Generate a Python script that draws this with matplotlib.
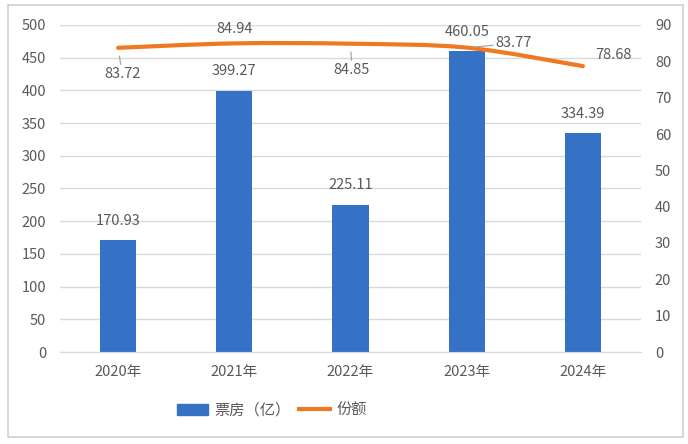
import matplotlib.pyplot as plt
from matplotlib.path import Path
from matplotlib.patches import PathPatch, Rectangle
from matplotlib.lines import Line2D

plt.rcParams['font.family'] = ['Noto Sans CJK SC', 'DejaVu Sans']

years = ['2020年', '2021年', '2022年', '2023年', '2024年']
box_office = [170.93, 399.27, 225.11, 460.05, 334.39]
share = [83.72, 84.94, 84.85, 83.77, 78.68]

blue = '#3572C6'
orange = '#F07820'
txt = '#595959'
grid = '#D9D9D9'

fig = plt.figure(figsize=(6.88, 4.44), dpi=100)
# outer frame like the original chart box
fig.patches.append(Rectangle((0.011, 0.016), 0.982, 0.972, transform=fig.transFigure,
                             fill=False, edgecolor='#D0D0D0', lw=1.2))

ax = fig.add_axes([60 / 688, 1 - 352 / 444, 581 / 688, 327 / 444])
ax2 = ax.twinx()

x = list(range(len(years)))
ax.bar(x, box_office, width=0.31, color=blue, zorder=2)
ax.set_xlim(-0.5, len(years) - 0.5)
ax.set_ylim(0, 500)
ax.set_yticks(range(0, 501, 50))
ax2.set_ylim(0, 90)
ax2.set_yticks(range(0, 91, 10))
ax.set_xticks(x)
ax.set_xticklabels(years)

for a in (ax, ax2):
    for s in a.spines.values():
        s.set_visible(False)
    a.tick_params(length=0, colors=txt, labelsize=10.5)
ax.spines['bottom'].set_visible(True)
ax.spines['bottom'].set_color(grid)
ax.tick_params(axis='y', pad=10)
ax2.tick_params(axis='y', pad=10)
ax.tick_params(axis='x', pad=9)
ax.grid(axis='y', color=grid, lw=1, zorder=0)
ax.set_axisbelow(True)

# smooth line (catmull-rom -> bezier)
pts = list(zip(x, share))
verts = [pts[0]]
codes = [Path.MOVETO]
for i in range(len(pts) - 1):
    p0 = pts[i - 1] if i > 0 else pts[i]
    p1 = pts[i]
    p2 = pts[i + 1]
    p3 = pts[i + 2] if i + 2 < len(pts) else pts[i + 1]
    c1 = (p1[0] + (p2[0] - p0[0]) / 6, p1[1] + (p2[1] - p0[1]) / 6)
    c2 = (p2[0] - (p3[0] - p1[0]) / 6, p2[1] - (p3[1] - p1[1]) / 6)
    verts += [c1, c2, p2]
    codes += [Path.CURVE4] * 3
ax2.add_patch(PathPatch(Path(verts, codes), fill=False, edgecolor=orange, lw=3,
                        capstyle='round', zorder=3))

# bar labels
for i, v in enumerate(box_office):
    ax.annotate(f'{v:.2f}', (i, v), xytext=(0, 9), textcoords='offset points',
                ha='center', va='bottom', color=txt, fontsize=10.5)

# line labels with leader lines where needed
offsets = [(3, -19), (0, 10), (1, -19), (34, 3), (22, 8)]
for i, v in enumerate(share):
    dx, dy = offsets[i]
    lead = dict(arrowstyle='-', color='#A6A6A6', lw=0.9, shrinkA=0, shrinkB=6) if i in (0, 2, 3) else None
    ax2.annotate(f'{v:.2f}', (i, v), xytext=(dx, dy), textcoords='offset points',
                 ha='center', va='center', color=txt, fontsize=10.5,
                 arrowprops=lead)

handles = [Rectangle((0, 0), 1, 1, color=blue), Line2D([0], [0], color=orange, lw=3)]
fig.legend(handles, ['票房（亿）', '份额'], loc='center', bbox_to_anchor=(272 / 688, 1 - 410 / 444),
           ncol=2, frameon=False, fontsize=11, labelcolor=txt, handlelength=2.0,
           columnspacing=0.6, handletextpad=0.4)

fig.savefig('out.png', dpi=100)
